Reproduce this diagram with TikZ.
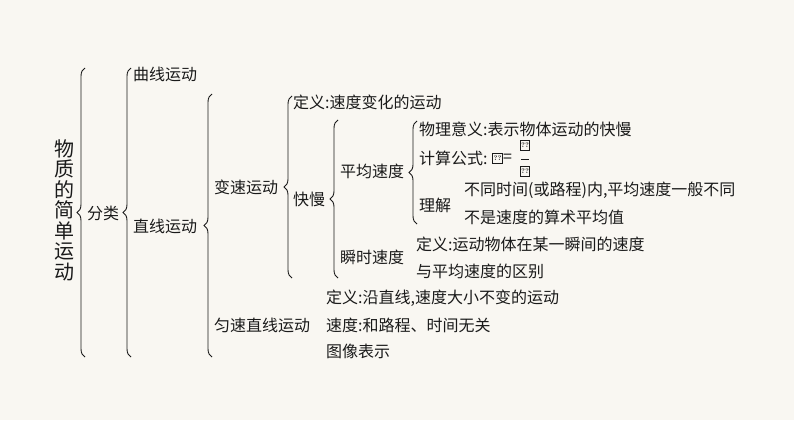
\documentclass[tikz,border=0pt]{standalone}
\usepackage{fontspec}
\newfontfamily\cjk{Noto Sans CJK SC}
\usetikzlibrary{decorations.pathreplacing}
\definecolor{bgc}{HTML}{F9F7F2}
\definecolor{ink}{HTML}{1A1A1A}
\tikzset{
  txt/.style={anchor=west, inner sep=0pt, text=ink, font=\cjk\fontsize{16}{16}\selectfont},
  brc/.style={draw=ink, line width=0.9pt, decorate, decoration={brace, amplitude=8pt}},
  tofu/.style={draw=ink, line width=0.6pt, inner sep=0pt, minimum width=9pt, minimum height=10pt,
    font=\bfseries\fontsize{6.5}{6.5}\selectfont, text=ink},
}
\begin{document}
\begin{tikzpicture}[x=1pt, y=-1pt]
\fill[bgc] (0,0) rectangle (794,420);
\useasboundingbox (0,0) rectangle (794,420);

% vertical title
\node[inner sep=0pt, text=ink, align=center, font=\cjk\fontsize{20}{20.5}\selectfont] (title) at (64,210)
  {物\\质\\的\\简\\单\\运\\动};

% braces
\draw[brc] (85,357) -- (85,68);
\draw[brc] (131,357) -- (131,68);
\draw[brc] (212,357) -- (212,94);
\draw[brc] (292,278) -- (292,96);
\draw[brc] (338,278) -- (338,120);
\draw[brc] (417,224) -- (417,121);

% texts
\node[txt] (fenlei) at (87,213) {分类};
\node[txt] (quxian) at (133,74) {曲线运动};
\node[txt] (zhixian) at (133,226) {直线运动};
\node[txt] (biansu) at (214,187) {变速运动};
\node[txt] (yunsu) at (214,325) {匀速直线运动};
\node[txt] (def1) at (293,102) {定义:速度变化的运动};
\node[txt] (kuaiman) at (293,199) {快慢};
\node[txt] (pingjun) at (340,171) {平均速度};
\node[txt] (shunshi) at (340,257) {瞬时速度};
\node[txt] (yiyi) at (419,129) {物理意义:表示物体运动的快慢};
\node[txt] (gongshi) at (419,158) {计算公式:};
\node[txt] (lijie) at (419,205) {理解};
\node[txt] (lj1) at (464,190) {不同时间(或路程)内,平均速度一般不同};
\node[txt] (lj2) at (464,217) {不是速度的算术平均值};
\node[txt] (def2) at (416,244) {定义:运动物体在某一瞬间的速度};
\node[txt] (qubie) at (416,271) {与平均速度的区别};
\node[txt] (def3) at (326,298) {定义:沿直线,速度大小不变的运动};
\node[txt] (sudu) at (326,325) {速度:和路程、时间无关};
\node[txt] (tuxiang) at (326,351) {图像表示};

% formula
\node[tofu, minimum width=10pt] (fv) at (497.5,158) {??};
\node[txt] (eq) at (503,158) {=};
\node[tofu] (fs) at (525,145) {??};
\node[tofu] (ft) at (525,171) {??};
\draw[ink, line width=0.8pt] (521,159) -- (529,159);
\end{tikzpicture}
\end{document}
